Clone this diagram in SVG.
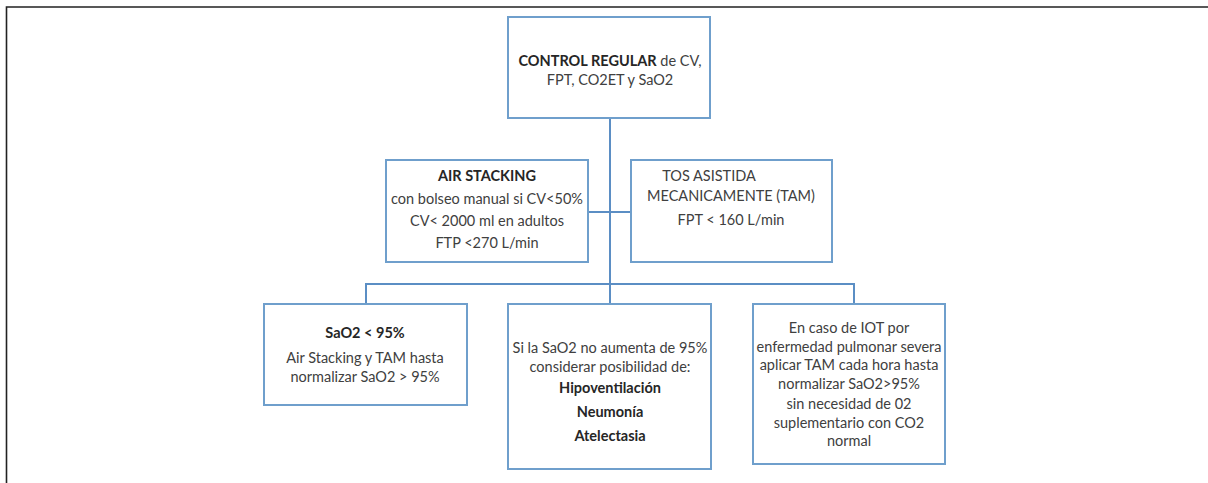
<svg xmlns="http://www.w3.org/2000/svg" width="1208" height="483" viewBox="0 0 1208 483">
<style>
.box{fill:#ffffff;stroke:#6f9fcc;stroke-width:2}
.con{fill:none;stroke:#5b8ec4;stroke-width:2}
.frame{fill:none;stroke:#222222;stroke-width:1.6}
text{font-family:Lato,"Open Sans","Liberation Sans",sans-serif;font-size:14.5px;fill:#404040;text-anchor:middle}
.b{font-weight:bold;fill:#262626}
</style>
<rect x="0" y="0" width="1208" height="483" fill="#ffffff"/>
<path class="frame" d="M6.5,483 V7 H1208"/>
<g id="connectors">
<path class="con" d="M610,118 V304"/>
<path class="con" d="M588,212 H631"/>
<path class="con" d="M366,304 V284 H854 V304"/>
</g>
<g id="node-control">
<rect class="box" x="508" y="17" width="202" height="101"/>
<text x="610" y="66"><tspan class="b">CONTROL REGULAR</tspan> de CV,</text>
<text x="610" y="85">FPT, CO2ET y SaO2</text>
</g>
<g id="node-air">
<rect class="box" x="386" y="160" width="202" height="102"/>
<text class="b" x="487" y="181">AIR STACKING</text>
<text x="487" y="204">con bolseo manual si CV&lt;50%</text>
<text x="487" y="226">CV&lt; 2000 ml en adultos</text>
<text x="487" y="248">FTP &lt;270 L/min</text>
</g>
<g id="node-tam">
<rect class="box" x="631" y="160" width="201" height="102"/>
<text x="709" y="181">TOS ASISTIDA</text>
<text x="731" y="201">MECANICAMENTE (TAM)</text>
<text x="731" y="225">FPT &lt; 160 L/min</text>
</g>
<g id="node-sao2">
<rect class="box" x="264" y="304" width="203" height="101"/>
<text class="b" x="365" y="338">SaO2 &lt; 95%</text>
<text x="365" y="363">Air Stacking y TAM hasta</text>
<text x="365" y="382">normalizar SaO2 &gt; 95%</text>
</g>
<g id="node-posibilidad">
<rect class="box" x="508" y="304" width="203" height="165"/>
<text x="610" y="353">Si la SaO2 no aumenta de 95%</text>
<text x="610" y="372">considerar posibilidad de:</text>
<text class="b" x="610" y="393">Hipoventilación</text>
<text class="b" x="610" y="417">Neumonía</text>
<text class="b" x="610" y="441">Atelectasia</text>
</g>
<g id="node-iot">
<rect class="box" x="753" y="304" width="192" height="160"/>
<text x="849" y="333">En caso de IOT por</text>
<text x="849" y="352">enfermedad pulmonar severa</text>
<text x="849" y="370">aplicar TAM cada hora hasta</text>
<text x="849" y="389">normalizar SaO2&gt;95%</text>
<text x="849" y="409">sin necesidad de 02</text>
<text x="849" y="428">suplementario con CO2</text>
<text x="849" y="446">normal</text>
</g>
</svg>
